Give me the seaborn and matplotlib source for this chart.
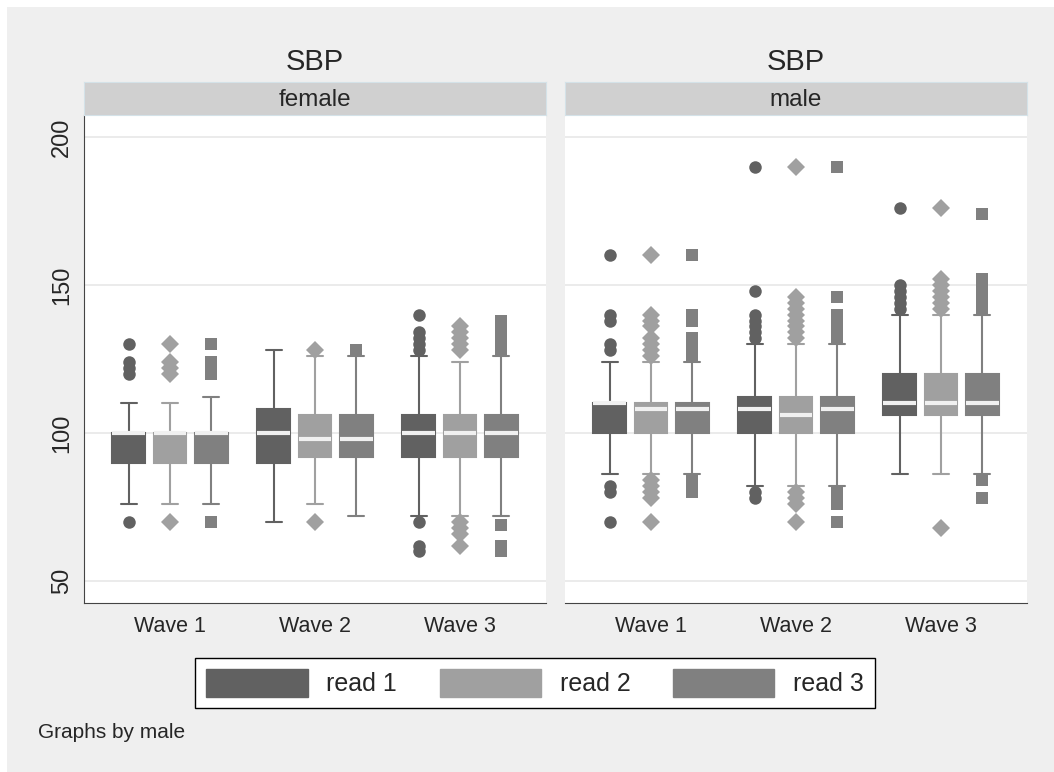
import pandas as pd
import matplotlib.pyplot as plt
import seaborn as sns
from matplotlib.patches import Patch, Rectangle

sexes = ["female", "male"]
waves = ["Wave 1", "Wave 2", "Wave 3"]
reads = ["read 1", "read 2", "read 3"]

# box summaries, [wave][read] for each panel
low_whisker = {"female": [[76, 76, 76], [70, 76, 72], [72, 72, 72]],
               "male": [[86, 86, 86], [82, 82, 82], [86, 86, 86]]}
q1 = {"female": [[90, 90, 90], [90, 92, 92], [92, 92, 92]],
      "male": [[100, 100, 100], [100, 100, 100], [106, 106, 106]]}
median = {"female": [[100, 100, 100], [100, 98, 98], [100, 100, 100]],
          "male": [[110, 108, 108], [108, 106, 108], [110, 110, 110]]}
q3 = {"female": [[100, 100, 100], [108, 106, 106], [106, 106, 106]],
      "male": [[110, 110, 110], [112, 112, 112], [120, 120, 120]]}
high_whisker = {"female": [[110, 110, 112], [128, 126, 126], [126, 124, 126]],
                "male": [[124, 124, 124], [130, 130, 130], [140, 140, 140]]}
outliers = {
    "female": [
        [[70, 120, 122, 124, 130], [70, 120, 122, 124, 130], [70, 120, 122, 124, 130]],
        [[], [70, 128], [128]],
        [[60, 62, 70, 128, 130, 132, 134, 140],
         [62, 66, 68, 70, 128, 130, 132, 134, 136],
         [60, 62, 69, 128, 130, 132, 134, 136, 138]],
    ],
    "male": [
        [[70, 80, 82, 128, 130, 138, 140, 160],
         [70, 78, 80, 82, 84, 126, 128, 130, 132, 136, 138, 140, 160],
         [80, 82, 84, 126, 128, 130, 132, 138, 140, 160]],
        [[78, 80, 132, 134, 136, 138, 140, 148, 190],
         [70, 76, 78, 80, 132, 134, 136, 138, 140, 142, 144, 146, 190],
         [70, 76, 78, 80, 132, 134, 136, 138, 140, 146, 190]],
        [[142, 144, 146, 148, 150, 176],
         [68, 142, 144, 146, 148, 150, 152, 176],
         [78, 84, 142, 144, 146, 148, 150, 152, 174]],
    ],
}

colors = {"read 1": "#616161", "read 2": "#a0a0a0", "read 3": "#808080"}
markers = {"read 1": "o", "read 2": "D", "read 3": "s"}

# weight of each quartile so the drawn quartiles sit on the values above
N = 40
rows = []
for sex in sexes:
    for i, wave in enumerate(waves):
        for j, read in enumerate(reads):
            vals = ([low_whisker[sex][i][j]] + [q1[sex][i][j]] * N
                    + [median[sex][i][j]] * N + [q3[sex][i][j]] * N
                    + [high_whisker[sex][i][j]] + outliers[sex][i][j])
            rows += [(sex, wave, read, v) for v in vals]
df = pd.DataFrame(rows, columns=["male", "wave", "read", "sbp"])

sns.set_style("white")
plt.rcParams["font.family"] = ["Liberation Sans", "DejaVu Sans"]

W, H = 1054, 772
fig = plt.figure(figsize=(W / 100, H / 100), dpi=100)
fig.patch.set_facecolor("white")
fig.patches.append(Rectangle((7 / W, 0), 1, 1 - 7 / H, transform=fig.transFigure,
                             facecolor="#efefef", edgecolor="none", zorder=-10))

panels = {"female": 84, "male": 565}
pw = 462
for sex in sexes:
    x0 = panels[sex]
    ax = fig.add_axes([x0 / W, 1 - 603 / H, pw / W, 488 / H])
    ax.set_facecolor("white")
    for read in reads:
        sub = df[(df["male"] == sex) & (df["read"] == read)]
        c = colors[read]
        sns.boxplot(data=sub, x="wave", y="sbp", hue="read", order=waves,
                    hue_order=reads, palette=colors, dodge=True, width=0.85,
                    gap=0.2, saturation=1, linecolor=c, linewidth=1.5,
                    medianprops=dict(color="#f0f0f0", linewidth=3),
                    flierprops=dict(marker=markers[read], markersize=9,
                                    markerfacecolor=c, markeredgecolor=c,
                                    markeredgewidth=0),
                    legend=False, ax=ax)
    ax.set_xlim(-0.593, 2.593)
    ax.set_ylim(42.6, 207.4)
    ax.set_yticks([50, 100, 150, 200])
    ax.set_axisbelow(True)
    ax.yaxis.grid(True, color="#e8e8e8", linewidth=1.2)
    ax.xaxis.grid(False)
    ax.set_xlabel("")
    ax.set_ylabel("")
    for side in ["top", "right"]:
        ax.spines[side].set_visible(False)
    ax.spines["bottom"].set_color("#444444")
    ax.tick_params(axis="x", length=0, pad=9, labelsize=15.5)
    if sex == "female":
        ax.spines["left"].set_color("#444444")
        ax.tick_params(axis="y", length=5, width=1, color="#444444", pad=3,
                       labelsize=17)
        for lab in ax.get_yticklabels():
            lab.set_rotation(90)
            lab.set_va("center")
    else:
        ax.spines["left"].set_visible(False)
        ax.tick_params(axis="y", length=0, labelleft=False)

    strip = fig.add_axes([x0 / W, 1 - 115 / H, pw / W, 33 / H])
    strip.set_facecolor("#d0d0d0")
    strip.set_xticks([])
    strip.set_yticks([])
    for sp in strip.spines.values():
        sp.set_color("#d4e2e8")
    strip.text(0.5, 0.45, sex, ha="center", va="center", fontsize=17.5,
               transform=strip.transAxes)
    fig.text((x0 + pw / 2) / W, 1 - 62 / H, "SBP", ha="center", va="center",
             fontsize=21)

handles = [Patch(facecolor=colors[r], edgecolor=colors[r], label=r) for r in reads]
fig.legend(handles=handles, loc="center", bbox_to_anchor=(535 / W, 1 - 683 / H),
           ncol=3, frameon=True, fancybox=False, edgecolor="black",
           facecolor="white", framealpha=1, fontsize=18, handlelength=4.05,
           handleheight=1.3, handletextpad=0.75, columnspacing=1.7,
           borderpad=0.45)
fig.text(38 / W, 1 - 733 / H, "Graphs by male", ha="left", va="center",
         fontsize=15)

fig.savefig("out.png", dpi=100)
